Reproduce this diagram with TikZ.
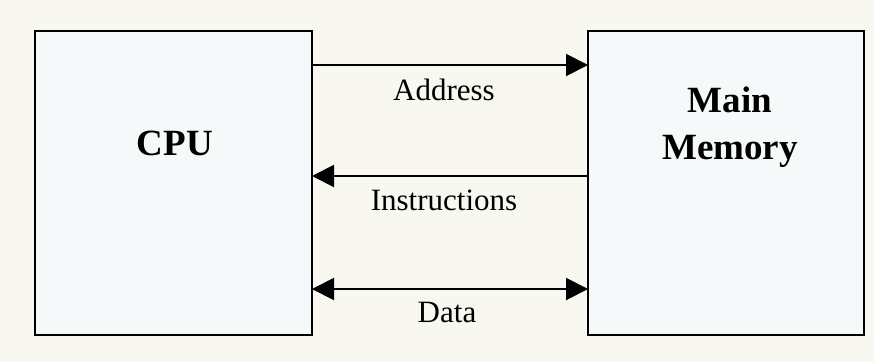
\documentclass[tikz,border=0pt]{standalone}
\usepackage{fontspec}
\setmainfont{Liberation Serif}
\usetikzlibrary{arrows.meta}
\definecolor{bgc}{HTML}{F8F7F0}
\definecolor{boxc}{HTML}{F5F9FA}
\tikzset{
  unitbox/.style={draw=black, line width=2pt, fill=boxc},
  bus/.style={line width=2pt, -{Triangle[length=22pt,width=22pt]}},
  dbus/.style={line width=2pt, {Triangle[length=22pt,width=22pt]}-{Triangle[length=22pt,width=22pt]}},
  lbl/.style={font=\fontsize{31}{36}\selectfont, inner sep=0pt},
  big/.style={font=\fontsize{37}{47}\selectfont\bfseries, align=center, inner sep=0pt}
}
\begin{document}
\begin{tikzpicture}[x=1pt,y=-1pt]
\fill[bgc] (0,0) rectangle (874,362);
\useasboundingbox (0,0) rectangle (874,362);
\draw[unitbox] (35,31) rectangle (312,335);
\draw[unitbox] (588,31) rectangle (864,335);
\node[big] (cpu) at (175,143) {CPU};
\node[big] (mem) at (730,127) {Main\\Memory};
\coordinate (a1) at (312,65);
\coordinate (a2) at (588,65);
\coordinate (i1) at (588,176);
\coordinate (i2) at (312,176);
\coordinate (d1) at (312,289);
\coordinate (d2) at (588,289);
\draw[bus] (a1) -- (a2);
\draw[bus] (i1) -- (i2);
\draw[dbus] (d1) -- (d2);
\node[lbl] (al) at (444,90) {Address};
\node[lbl] (il) at (444,200) {Instructions};
\node[lbl] (dl) at (447,312) {Data};
\end{tikzpicture}
\end{document}
